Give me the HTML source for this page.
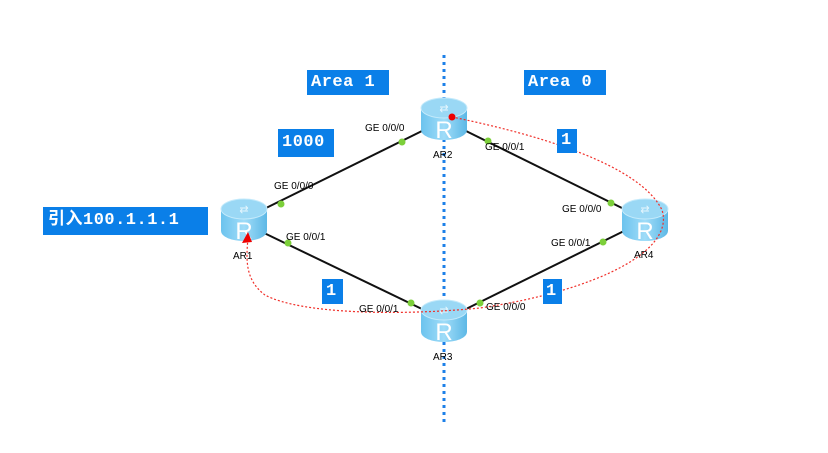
<!DOCTYPE html>
<html><head><meta charset="utf-8"><style>
body{margin:0;background:#fff;width:828px;height:453px;overflow:hidden}
.b{position:absolute;background:#0a7fe8;color:#fff;font-family:"Liberation Mono","Noto Sans CJK SC",monospace;font-weight:bold;line-height:1;letter-spacing:0.5px}
</style></head><body>
<svg width="828" height="453" style="position:absolute;left:0;top:0" font-family="Liberation Sans, sans-serif">
<defs>
<linearGradient id="g" x1="0" x2="1"><stop offset="0" stop-color="#6cc3ee"/><stop offset="0.5" stop-color="#9fdcf8"/><stop offset="1" stop-color="#5db8e6"/></linearGradient>
<g id="r">
<path d="M-23,-10 L-23,12 A23,10 0 0 0 23,12 L23,-10 Z" fill="url(#g)"/>
<ellipse cx="0" cy="-10" rx="23" ry="10" fill="#9ad8f5" stroke="#c4eafb" stroke-width="1"/>
<text x="0" y="-6" font-size="11" fill="#e6f6fd" text-anchor="middle">⇄</text>
<text x="0" y="20" font-size="24" fill="#fff" text-anchor="middle">R</text>
</g>
</defs>
<line x1="444" y1="55" x2="444" y2="422" stroke="#1d80e8" stroke-width="3" stroke-dasharray="3,4"/>
<g stroke="#111" stroke-width="2">
<line x1="262" y1="210" x2="424" y2="130"/>
<line x1="262" y1="232" x2="424" y2="310"/>
<line x1="464" y1="130" x2="626" y2="210"/>
<line x1="464" y1="310" x2="626" y2="230"/>
</g>
<use href="#r" x="444" y="118"/>
<use href="#r" x="244" y="219"/>
<use href="#r" x="444" y="320"/>
<use href="#r" x="645" y="219"/>
<path d="M452,117 C540,135 640,165 662,210 C675,250 600,290 480,308 C400,316 300,314 265,295 C245,280 246,260 248,238" fill="none" stroke="#f0302a" stroke-width="1.2" stroke-dasharray="2,2"/>
<polygon points="248,232 242,243 252,242" fill="#e00"/>
<circle cx="452" cy="117" r="3.5" fill="#e00"/>
<g fill="#7ccf3a">
<circle cx="281" cy="204" r="3.5"/><circle cx="402" cy="142" r="3.5"/>
<circle cx="288" cy="243" r="3.5"/><circle cx="411" cy="303" r="3.5"/>
<circle cx="488" cy="141" r="3.5"/><circle cx="611" cy="203" r="3.5"/>
<circle cx="603" cy="242" r="3.5"/><circle cx="480" cy="303" r="3.5"/>
</g>
<g font-size="10" fill="#000">
<text x="365" y="131">GE 0/0/0</text>
<text x="274" y="189">GE 0/0/0</text>
<text x="286" y="240">GE 0/0/1</text>
<text x="359" y="312">GE 0/0/1</text>
<text x="485" y="150">GE 0/0/1</text>
<text x="562" y="212">GE 0/0/0</text>
<text x="551" y="246">GE 0/0/1</text>
<text x="486" y="310">GE 0/0/0</text>
<text x="433" y="158">AR2</text>
<text x="233" y="259">AR1</text>
<text x="433" y="360">AR3</text>
<text x="634" y="258">AR4</text>
</g>
</svg>
<div class="b" style="left:307px;top:70px;width:82px;height:25px;font-size:17px;padding:4px 0 0 4px;box-sizing:border-box">Area 1</div>
<div class="b" style="left:524px;top:70px;width:82px;height:25px;font-size:17px;padding:4px 0 0 4px;box-sizing:border-box">Area 0</div>
<div class="b" style="left:278px;top:129px;width:56px;height:28px;font-size:17px;padding:5px 0 0 4px;box-sizing:border-box">1000</div>
<div class="b" style="left:43px;top:207px;width:165px;height:28px;font-size:17px;padding:5px 0 0 5px;box-sizing:border-box">引入100.1.1.1</div>
<div class="b" style="left:557px;top:129px;width:20px;height:24px;font-size:17px;padding:3px 0 0 4px;box-sizing:border-box">1</div>
<div class="b" style="left:322px;top:279px;width:21px;height:25px;font-size:17px;padding:4px 0 0 4px;box-sizing:border-box">1</div>
<div class="b" style="left:543px;top:279px;width:19px;height:25px;font-size:17px;padding:4px 0 0 3px;box-sizing:border-box">1</div>
</body></html>
